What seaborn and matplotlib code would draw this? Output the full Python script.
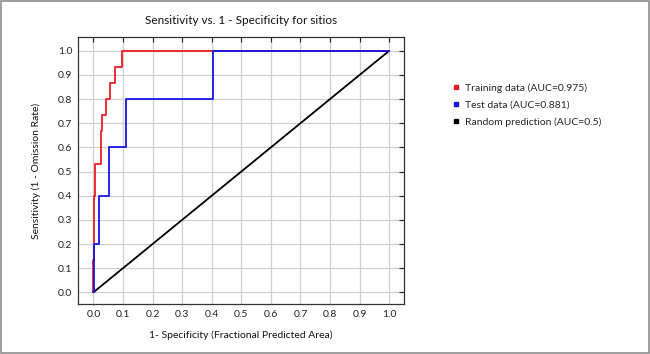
import pandas as pd
import seaborn as sns
import matplotlib.pyplot as plt
from matplotlib.lines import Line2D
from matplotlib.patches import Rectangle

# ROC curve corners
train_fpr = [0, 0, 0.003, 0.003, 0.007, 0.007, 0.026, 0.026, 0.030, 0.030, 0.041, 0.041,
             0.057, 0.057, 0.074, 0.074, 0.098, 0.098, 1.0]
train_tpr = [0, 0.133, 0.133, 0.4, 0.4, 0.533, 0.533, 0.667, 0.667, 0.733, 0.733, 0.8,
             0.8, 0.867, 0.867, 0.933, 0.933, 1.0, 1.0]
test_fpr = [0, 0.002, 0.002, 0.020, 0.020, 0.054, 0.054, 0.110, 0.110, 0.405, 0.405, 1.0]
test_tpr = [0, 0, 0.2, 0.2, 0.4, 0.4, 0.6, 0.6, 0.8, 0.8, 1.0, 1.0]
rand_fpr = [0, 1]
rand_tpr = [0, 1]

labels = ["Training data (AUC=0.975)", "Test data (AUC=0.881)", "Random prediction (AUC=0.5)"]
colors = ["#ec1c24", "#1414e6", "#000000"]
ticks = [i / 10 for i in range(11)]

sns.set_theme(style="white")
plt.rcParams["font.family"] = ["Lato", "DejaVu Sans"]

fig = plt.figure(figsize=(6.5, 3.54), dpi=100)
ax = fig.add_axes([0.12, 0.14, 0.5015, 0.7555])

curves = [(rand_fpr, rand_tpr, colors[2]), (train_fpr, train_tpr, colors[0]), (test_fpr, test_tpr, colors[1])]
for fx, ty, c in curves:
    df = pd.DataFrame({"fpr": fx, "tpr": ty})
    sns.lineplot(data=df, x="fpr", y="tpr", sort=False, estimator=None, color=c, lw=1.3, ax=ax)

ax.set_xlim(-0.052, 1.05)
ax.set_ylim(-0.05, 1.057)
ax.set_xticks(ticks)
ax.set_yticks(ticks)
ax.set_xticklabels([f"{t:.1f}" for t in ticks])
ax.set_yticklabels([f"{t:.1f}" for t in ticks])
ax.grid(True, color="#cfcfcf", lw=0.9)
ax.set_axisbelow(True)
ax.tick_params(direction="in", length=3.5, width=0.8, top=True, right=True,
               labelsize=7.5, colors="#222222", pad=4)
for s in ax.spines.values():
    s.set_color("#333333")
    s.set_linewidth(0.9)

ax.set_title("Sensitivity vs. 1 - Specificity for sitios", fontsize=8.5, pad=9, color="#111111")
ax.set_xlabel("1- Specificity (Fractional Predicted Area)", fontsize=7.5, labelpad=8, color="#111111")
ax.set_ylabel("Sensitivity (1 - Omission Rate)", fontsize=7.5, labelpad=12, color="#111111")

handles = [Line2D([], [], ls="none", marker="s", markersize=3.5, color=c) for c in colors]
fig.legend(handles, labels, loc="upper left", bbox_to_anchor=(0.682, 0.792), frameon=False,
           fontsize=7.5, handlelength=0.6, handletextpad=0.6, labelspacing=0.75)

fig.patches.append(Rectangle((0.001, 0.002), 0.997, 0.996, transform=fig.transFigure,
                             fill=False, edgecolor="#8c8c8c", lw=1.2))

fig.savefig("out.png", dpi=100)
